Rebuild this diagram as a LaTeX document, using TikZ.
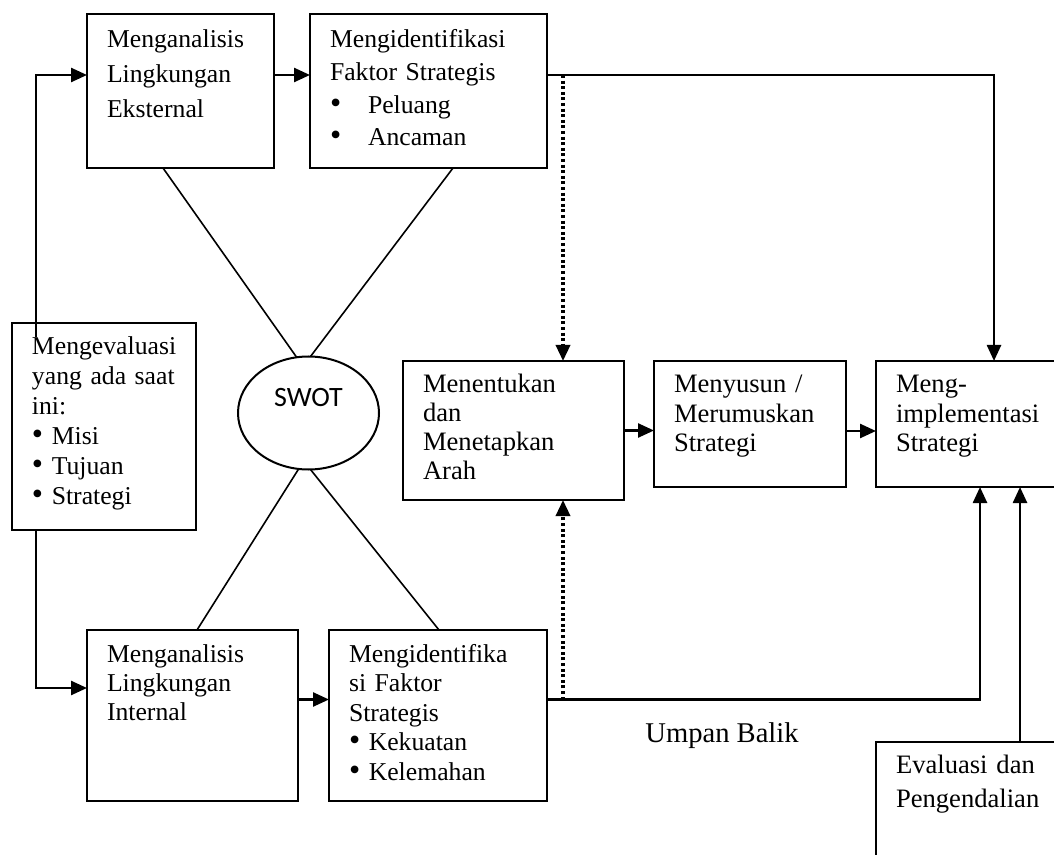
\documentclass[tikz,border=0pt]{standalone}
\usepackage{fontspec}
\setmainfont{Liberation Serif}
\newfontfamily\swotfont{Carlito}
\usetikzlibrary{arrows.meta,shapes.geometric,calc}
\newcommand{\bul}{{\fontsize{16pt}{0pt}\selectfont\textbullet}}

\begin{document}
\begin{tikzpicture}[
    x=0.5pt, y=-0.5pt,
    box/.style={rectangle, draw, line width=1pt, anchor=north west, align=left,
                inner xsep=10pt, inner ysep=0pt, outer sep=0pt, text height=16pt},
    fl/.style={font=\fontsize{12.85pt}{#1}\selectfont},
    fr/.style={font=\fontsize{13.3pt}{#1}\selectfont},
    arrow/.style={-{Triangle[length=8pt, width=7pt]}, line width=1.25pt},
    dotarrow/.style={arrow, line width=1.7pt, dash pattern=on 1.5pt off 1.3pt},
    cross/.style={line width=0.8pt},
]
\useasboundingbox (0,0) rectangle (1054,855);

% External analysis
\node[box, fl=17.5pt, text width=73.5pt, text height=17pt, text depth=60pt] (ext) at (87,14) {Menganalisis\\Lingkungan\\Eksternal};
\node[box, fl=16.3pt, text width=98.5pt, text height=17pt, text depth=60pt] (fext) at (310,14) {Mengidentifikasi\\Faktor Strategis\\\makebox[19pt][l]{\bul}Peluang\\\makebox[19pt][l]{\bul}Ancaman};

% Current state
\node[box, fl=14.9pt, text width=72pt, text depth=87.5pt] (eval) at (12,323) {Mengevaluasi\\yang ada saat\\ini:\\\bul\ Misi\\\bul\ Tujuan\\\bul\ Strategi};

% SWOT
\node[ellipse, draw, line width=1pt, inner sep=0pt, outer sep=0pt, minimum width=70.5pt, minimum height=56.5pt,
      font=\swotfont\fontsize{14pt}{16pt}\selectfont, text height=9pt, text depth=15pt] (swot) at (308.5,413) {SWOT};

% Internal analysis
\node[box, fl=14.5pt, text width=85.5pt, text depth=69.5pt] (int) at (87,630) {Menganalisis\\Lingkungan\\Internal};
\node[box, fl=14.8pt, text width=89pt, text depth=69.5pt] (fint) at (329,630) {Mengidentifika\\si Faktor\\Strategis\\\bul\ Kekuatan\\\bul\ Kelemahan};

% Strategy chain
\node[box, fr=14.5pt, text width=90.5pt, text depth=53.5pt] (arah) at (403,361) {Menentukan\\dan\\Menetapkan\\Arah};
\node[box, fr=14.75pt, text width=76pt, text depth=47pt] (susun) at (654,361) {Menyusun /\\Merumuskan\\Strategi};
\node[box, fr=14.75pt, text width=75pt, text depth=47pt] (impl) at (876,361) {Meng-\\implementasi\\Strategi};
\node[box, fr=17pt, text width=75pt, text height=15.5pt, text depth=49.5pt] (evc) at (876,742) {Evaluasi dan\\Pengendalian};
\node[font=\fontsize{14.3pt}{17pt}\selectfont, anchor=base] (ub) at (722,742) {Umpan Balik};

% Lines into SWOT
\draw[cross] ([xshift=38pt]ext.south west) -- (swot.102);
\draw[cross] ([xshift=71.5pt]fext.south west) -- (swot.88);
\draw[cross] ([xshift=55pt]int.north west) -- (swot.260);
\draw[cross] ([xshift=55pt]fint.north west) -- (swot.272);

% Arrows
\draw[arrow] ([xshift=12pt,yshift=-7pt]eval.north west) |- ([yshift=8pt]ext.west);
\draw[arrow] ([xshift=12pt]eval.south west) |- ([yshift=13.75pt]int.west);
\draw[arrow] ([yshift=8pt]ext.east) -- ([yshift=8pt]fext.west);
\draw[arrow] ([yshift=8pt]int.east) -- ([yshift=8pt]fint.west);
\draw[arrow] ([yshift=8pt]fext.east) -| ([xshift=59pt]impl.north west);
\draw[arrow] ([yshift=8pt]fint.east) -| ([xshift=52pt]impl.south west);
\draw[arrow] ([xshift=72pt]evc.north west) -- ([xshift=72pt]impl.south west);
\draw[arrow] (arah.east) -- (arah.east -| susun.west);
\draw[arrow] ([yshift=-3.5pt]susun.east) -- ([yshift=-3.5pt]impl.west);
\draw[dotarrow] ([xshift=8pt,yshift=8pt]fext.east) -- ([xshift=80pt]arah.north west);
\draw[dotarrow] ([xshift=8pt,yshift=8pt]fint.east) -- ([xshift=80pt]arah.south west);

\end{tikzpicture}
\end{document}
